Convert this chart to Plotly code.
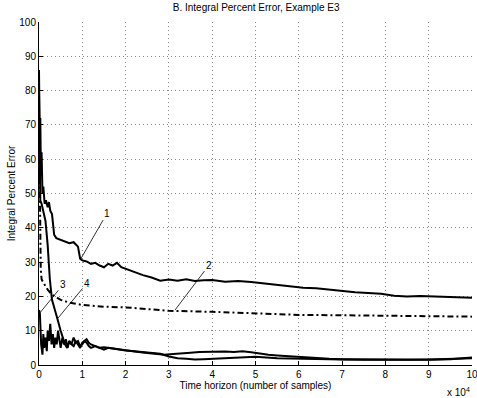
import plotly.graph_objects as go

# ---- data (time horizon in units of 1e4 samples, integral percent error) ----
x1 = [0, 0.005, 0.01, 0.02, 0.03, 0.045, 0.06, 0.08, 0.1, 0.13, 0.16, 0.2, 0.23, 0.26, 0.3,
      0.35, 0.4, 0.5, 0.6, 0.7, 0.8, 0.9, 0.95, 1.0, 1.1, 1.2, 1.3, 1.4, 1.5, 1.6, 1.7, 1.8,
      1.9, 2.0, 2.1, 2.2, 2.4, 2.6, 2.8, 3.0, 3.2, 3.4, 3.6, 3.8, 4.0, 4.3, 4.6, 4.9, 5.2,
      5.5, 5.8, 6.1, 6.4, 6.7, 7.0, 7.3, 7.6, 7.9, 8.2, 8.5, 8.8, 9.1, 9.4, 9.7, 10.0]
y1 = [86, 70, 80, 60, 72, 55, 62, 50, 52, 47, 48, 46, 47.5, 45, 44,
      38, 37, 36.5, 36, 35.5, 35.8, 34.5, 31, 30.5, 30.2, 29.5, 29.8, 29.0, 28.5, 29.5, 29.0, 29.8,
      28.5, 28.0, 27.7, 27.0, 26.2, 25.5, 24.6, 24.9, 24.6, 25.0, 24.5, 24.7, 24.8, 24.3, 24.5, 24.2, 23.8,
      23.2, 22.8, 22.5, 22.4, 22.0, 21.5, 21.2, 21.0, 20.8, 20.2, 20.0, 20.1, 20.0, 19.9, 19.6, 19.6]

x2 = [0, 0.01, 0.02, 0.04, 0.06, 0.1, 0.2, 0.3, 0.5, 0.7, 1.0, 1.5, 2.0, 2.5, 3.0,
      4.0, 5.0, 6.0, 7.0, 8.0, 9.0, 10.0]
y2 = [75, 60, 40, 28, 25, 24, 22, 20.5, 19, 18.2, 17.5, 17, 16.8, 16.3, 15.8,
      15.5, 15.0, 14.6, 14.5, 14.3, 14.2, 14.1]

x3 = [0, 0.02, 0.05, 0.08, 0.1, 0.12, 0.15, 0.18, 0.2, 0.23, 0.26, 0.29, 0.32, 0.35, 0.38,
      0.41, 0.44, 0.47, 0.5, 0.54, 0.58, 0.62, 0.66, 0.7, 0.75, 0.8, 0.85, 0.9, 0.95, 1.0,
      1.05, 1.1, 1.15, 1.2, 1.3, 1.4, 1.5, 1.6, 1.8, 2.0, 2.2, 2.4, 2.6, 2.8, 3.0, 3.2, 3.4,
      3.6, 3.8, 4.0, 4.2, 4.5, 5.0, 5.5, 6.0, 6.5, 7.0, 7.5, 8.0, 8.5, 9.0, 9.5, 10.0]
y3 = [16, 15, 6, 3, 9, 5, 8, 4, 10, 7, 12, 6, 9, 5, 8,
      6, 10, 7, 5, 8, 6, 7.5, 5, 7, 6, 5.5, 7, 6, 5, 6.5,
      7, 6.5, 5.5, 5, 5.5, 5, 4.5, 5, 4.5, 4.2, 4.0, 3.8, 3.6, 3.3, 2.5, 2.0, 1.8,
      1.6, 1.7, 1.8, 1.9, 2.2, 2.4, 2.0, 1.8, 1.6, 1.6, 1.5, 1.4, 1.5, 1.6, 1.8, 2.0]

x4 = [0, 0.01, 0.03, 0.06, 0.1, 0.15, 0.2, 0.25, 0.3, 0.36, 0.42, 0.5, 0.55, 0.6, 0.65,
      0.7, 0.75, 0.8, 0.85, 0.9, 0.95, 1.0, 1.05, 1.1, 1.15, 1.2, 1.3, 1.4, 1.5, 1.7, 1.9,
      2.1, 2.3, 2.5, 2.7, 2.9, 3.1, 3.3, 3.5, 3.7, 3.9, 4.1, 4.3, 4.5, 4.7, 4.9, 5.1, 5.3,
      5.5, 5.8, 6.1, 6.4, 6.7, 7.0, 7.5, 8.0, 8.5, 9.0, 9.5, 10.0]
y4 = [80, 55, 48, 47, 45, 42, 35, 25, 19, 16, 13.7, 10, 8, 6, 5,
      7, 6, 8, 6.5, 7, 5.5, 6, 7, 7.5, 6.5, 6, 5.5, 5, 5.2, 4.8, 4.5,
      4.0, 3.8, 3.5, 3.2, 3.0, 3.2, 3.5, 3.6, 3.8, 3.9, 4.0, 3.9, 3.8, 4.0, 3.7, 3.3, 3.0,
      2.8, 2.5, 2.2, 2.0, 1.8, 1.7, 1.6, 1.5, 1.6, 1.5, 1.7, 2.2]

x_ticks = [0, 1, 2, 3, 4, 5, 6, 7, 8, 9, 10]
y_ticks = [0, 10, 20, 30, 40, 50, 60, 70, 80, 90, 100]

# curve labels: (text, x, y) where the pointer touches the curve
labels = ["1", "2", "3", "4"]
label_x = [0.95, 3.14, 0.02, 0.44]
label_y = [30.6, 16.0, 15.2, 13.7]

FONT = "Liberation Sans, Arial, sans-serif"

fig = go.Figure()
fig.add_trace(go.Scatter(x=x1, y=y1, mode="lines", line=dict(color="black", width=2)))
fig.add_trace(go.Scatter(x=x2, y=y2, mode="lines",
                         line=dict(color="black", width=2, dash="6px,3px,2px,3px")))
fig.add_trace(go.Scatter(x=x3, y=y3, mode="lines", line=dict(color="black", width=2)))
fig.add_trace(go.Scatter(x=x4, y=y4, mode="lines", line=dict(color="black", width=2)))

offsets = [(27, -47), (34, -45), (23, -28), (29, -35)]
for t, xx, yy, (ax, ay) in zip(labels, label_x, label_y, offsets):
    fig.add_annotation(x=xx, y=yy, text=t, showarrow=True, arrowhead=0, arrowwidth=0.8,
                       arrowcolor="black", ax=ax, ay=ay,
                       font=dict(family=FONT, size=10, color="black"))

fig.add_annotation(xref="paper", yref="paper", x=1.0, y=-0.055, xanchor="right", yanchor="top",
                   text="x 10<sup>4</sup>", showarrow=False,
                   font=dict(family=FONT, size=10, color="black"))

fig.update_layout(
    width=477, height=398,
    margin=dict(l=39, r=5, t=22, b=33, autoexpand=False),
    paper_bgcolor="white", plot_bgcolor="white",
    showlegend=False,
    title=dict(text="B. Integral Percent Error, Example E3", x=0.537, xanchor="center",
               y=0.99, yanchor="top", font=dict(family=FONT, size=10, color="black")),
    font=dict(family=FONT, size=10, color="black"),
)
fig.update_xaxes(range=[0, 10], tickvals=x_ticks, ticktext=[str(v) for v in x_ticks],
                 ticks="inside", ticklen=4, tickcolor="black", automargin=False,
                 ticklabeloverflow="allow",
                 showline=True, linecolor="black", linewidth=1, mirror=False,
                 showgrid=True, gridcolor="#888888", griddash="1px,3px", gridwidth=1,
                 zeroline=False,
                 title=dict(text="Time horizon (number of samples)", standoff=2,
                            font=dict(family=FONT, size=10)),
                 tickfont=dict(family=FONT, size=10))
fig.update_yaxes(range=[0, 100], tickvals=y_ticks, automargin=False,
                 ticks="inside", ticklen=4, tickcolor="black",
                 showline=True, linecolor="black", linewidth=1, mirror=False,
                 showgrid=True, gridcolor="#888888", griddash="1px,3px", gridwidth=1,
                 zeroline=False,
                 title=dict(text="Integral Percent Error", standoff=1,
                            font=dict(family=FONT, size=10)),
                 tickfont=dict(family=FONT, size=10))

fig.write_html("out.html", config={"displayModeBar": False},
               post_script="document.body.style.margin='0';document.body.style.overflow='hidden';")
